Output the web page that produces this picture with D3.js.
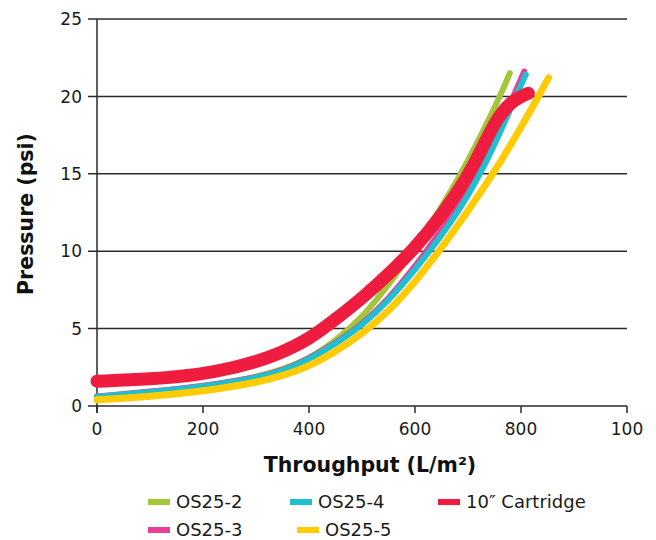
<!DOCTYPE html>
<html>
<head>
<meta charset="utf-8">
<script src="https://cdn.jsdelivr.net/npm/d3@7"></script>
<style>
html,body{margin:0;padding:0;background:#fff;}
svg{display:block;font-family:"DejaVu Sans",Verdana,sans-serif;}
</style>
</head>
<body>
<svg id="chart" width="656" height="540"></svg>
<script>
// ---- data ----
const xTickValues = [0, 200, 400, 600, 800, 1000];
const xTickLabels = ["0", "200", "400", "600", "800", "100"];
const yTickValues = [0, 5, 10, 15, 20, 25];
const seriesNames = ["OS25-2", "OS25-3", "OS25-4", "OS25-5", "10\u2033 Cartridge"];

const os252X = [0, 100, 200, 300, 350, 400, 450, 500, 550, 600, 650, 700, 750, 779];
const os252Y = [0.55, 0.85, 1.25, 1.85, 2.35, 3.05, 4.2, 5.7, 7.8, 10.2, 12.8, 15.8, 19.2, 21.5];

const os253X = [0, 100, 200, 300, 350, 400, 450, 500, 550, 600, 650, 700, 750, 786, 806];
const os253Y = [0.62, 0.92, 1.28, 1.83, 2.28, 3.05, 4.05, 5.25, 6.9, 9.0, 11.3, 13.9, 17.2, 20.0, 21.6];

const os254X = [0, 100, 200, 300, 350, 400, 450, 500, 550, 600, 650, 700, 750, 790, 809];
const os254Y = [0.6, 0.9, 1.25, 1.8, 2.25, 3.0, 4.0, 5.2, 6.8, 8.8, 11.0, 13.5, 16.8, 20.0, 21.4];

const os255X = [0, 100, 200, 300, 350, 400, 450, 500, 550, 600, 650, 700, 750, 800, 833, 852];
const os255Y = [0.4, 0.6, 0.95, 1.5, 1.95, 2.55, 3.5, 4.65, 6.1, 8.0, 10.2, 12.6, 15.1, 18.0, 20.0, 21.2];

const cartX = [0, 100, 200, 251, 300, 345, 400, 450, 500, 550, 600, 650, 700, 730, 755, 780, 800, 814];
const cartY = [1.6, 1.72, 2.05, 2.43, 2.85, 3.4, 4.3, 5.6, 6.95, 8.5, 10.2, 12.3, 14.8, 16.9, 18.6, 19.6, 20.0, 20.2];

const colors = ["#a4c639", "#ea3d96", "#1fbfcf", "#ffcb05", "#ee1c3f"];
const widths = [6, 6, 6, 7, 13];

// ---- layout ----
const svg = d3.select("#chart");
const x = d3.scaleLinear().domain([0, 1000]).range([97, 627]);
const y = d3.scaleLinear().domain([0, 25]).range([406, 19]);
const axisColor = "#2b2b2b";

// gridlines (with left tick extension)
svg.append("g").selectAll("line").data(yTickValues).join("line")
  .attr("x1", 88).attr("x2", x(1000))
  .attr("y1", d => y(d)).attr("y2", d => y(d))
  .attr("stroke", axisColor).attr("stroke-width", 1.5);

// y axis line
svg.append("line").attr("x1", x(0)).attr("x2", x(0))
  .attr("y1", y(25)).attr("y2", y(0) + 7)
  .attr("stroke", axisColor).attr("stroke-width", 1.5);

// x ticks
svg.append("g").selectAll("line").data(xTickValues).join("line")
  .attr("x1", d => x(d)).attr("x2", d => x(d))
  .attr("y1", y(0)).attr("y2", y(0) + 7)
  .attr("stroke", axisColor).attr("stroke-width", 1.5);

// x tick labels
svg.append("g").selectAll("text").data(xTickValues).join("text")
  .attr("x", d => x(d)).attr("y", 435)
  .attr("text-anchor", "middle").attr("font-size", 17).attr("fill", "#1a1a1a")
  .text((d, i) => xTickLabels[i]);

// y tick labels
svg.append("g").selectAll("text").data(yTickValues).join("text")
  .attr("x", 82).attr("y", d => y(d)).attr("dy", "0.36em")
  .attr("text-anchor", "end").attr("font-size", 17).attr("fill", "#1a1a1a")
  .text(d => d);

// axis titles
svg.append("text").attr("x", 370).attr("y", 472)
  .attr("text-anchor", "middle").attr("font-size", 20.5).attr("font-weight", "bold")
  .attr("fill", "#111").text("Throughput (L/m\u00b2)");
svg.append("text").attr("transform", "translate(33,214) rotate(-90)")
  .attr("text-anchor", "middle").attr("font-size", 20.5).attr("font-weight", "bold")
  .attr("fill", "#111").text("Pressure (psi)");

// series
const seriesData = [
  d3.zip(os252X, os252Y),
  d3.zip(os253X, os253Y),
  d3.zip(os254X, os254Y),
  d3.zip(os255X, os255Y),
  d3.zip(cartX, cartY)
];
const line = d3.line().x(d => x(d[0])).y(d => y(d[1])).curve(d3.curveBasis);
svg.append("g").selectAll("path").data(seriesData).join("path")
  .attr("d", line)
  .attr("fill", "none")
  .attr("stroke", (d, i) => colors[i])
  .attr("stroke-width", (d, i) => widths[i])
  .attr("stroke-linecap", "round")
  .attr("stroke-linejoin", "round");

// legend
const legendItems = [
  {i: 0, x: 148, y: 502},
  {i: 2, x: 290, y: 502},
  {i: 4, x: 438, y: 502},
  {i: 1, x: 148, y: 530},
  {i: 3, x: 297, y: 530}
];
const lg = svg.append("g").selectAll("g").data(legendItems).join("g")
  .attr("transform", d => `translate(${d.x},${d.y})`);
lg.append("rect").attr("x", 0).attr("y", -3).attr("width", 22).attr("height", 6)
  .attr("fill", d => colors[d.i]);
lg.append("text").attr("x", 28).attr("y", 0).attr("dy", "0.36em")
  .attr("font-size", 18).attr("fill", "#1a1a1a")
  .text(d => seriesNames[d.i]);
</script>
</body>
</html>
